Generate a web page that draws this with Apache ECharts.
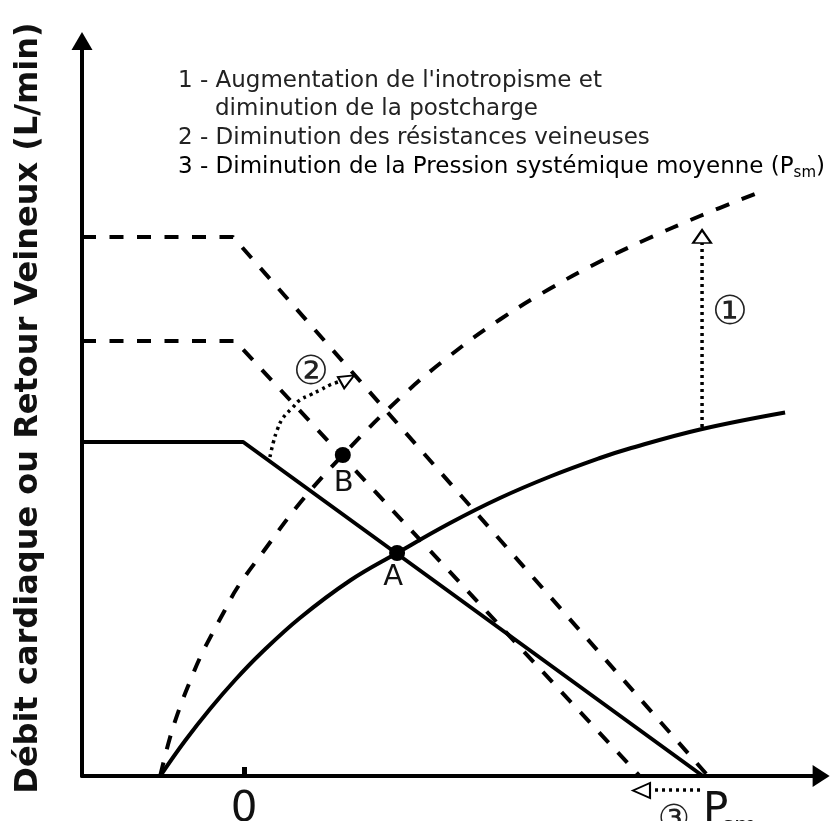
<!DOCTYPE html>
<html><head><meta charset="utf-8">
<script src="https://cdn.jsdelivr.net/npm/echarts@6/dist/echarts.min.js"></script>
<style>html,body{margin:0;padding:0;background:#fff}#c{width:831px;height:821px}</style>
</head><body><div id="c"></div>
<script>
// ---- data (x: pressure units, 0 at the "0" tick; y: flow units) ----
const xTickValues = [0];
const xTickLabels = ['0'];
const venousBase   = [[-4, 6.68], [-0.02, 6.68], [11.33, 0]];
const venousLowRes = [[-4, 10.78], [-0.27, 10.78], [11.46, 0]];
const venousLowPsm = [[-4, 8.70], [-0.22, 8.70], [9.77, 0]];
const cardiacBase = [[-2.07,0],[-1.46,0.70],[-0.84,1.34],[-0.22,1.92],[0.40,2.44],[1.38,3.16],[2.62,3.91],[3.78,4.46],[5.09,5.06],[6.32,5.56],[7.56,5.99],[8.79,6.36],[9.48,6.54],[11.26,6.93],[13.36,7.27]];
const cardiacUp = [[-2.07,0],[-1.83,0.76],[-1.58,1.38],[-1.33,1.90],[-1.09,2.36],[-0.79,2.84],[-0.47,3.32],[-0.17,3.76],[0.47,4.48],[1.38,5.46],[2.44,6.42],[3.85,7.56],[5.09,8.41],[6.32,9.13],[7.56,9.75],[8.79,10.29],[9.90,10.72],[11.26,11.20],[12.74,11.68]];
const arrow1Path = [[11.31, 6.98], [11.31, 10.66]];
const arrow2Path = [[0.64,6.38],[0.72,6.66],[0.82,6.92],[0.96,7.16],[1.19,7.36],[1.38,7.52],[1.63,7.62],[1.88,7.72],[2.12,7.82],[2.32,7.88]];
const arrow3Path = [[11.26, -0.28], [9.99, -0.28]];
const arrowHeads = [
  {value: [11.31, 10.79], rot: 0,   size: [18, 13]},
  {value: [2.56, 7.94],   rot: -61, size: [13, 15]},
  {value: [9.815, -0.29], rot: 90,  size: [15, 17]}
];
const eqPoints = [
  {name: 'A', value: [3.78, 4.46], off: [-4, 24]},
  {name: 'B', value: [2.44, 6.42], off: [1, 28]}
];
const notes = [
  '1 - Augmentation de l\'inotropisme et',
  'diminution de la postcharge',
  '2 - Diminution des résistances veineuses',
  '3 - Diminution de la Pression systémique moyenne (P'
];
const yTitle = 'Débit cardiaque ou Retour Veineux (L/min)';

const FF = '"DejaVu Sans"';
const chart = echarts.init(document.getElementById('c'), null, {renderer: 'canvas'});
const dash = [14, 13.5];
const dot = [3, 4];
function lineS(data, type, smooth, extra) {
  return Object.assign({
    type: 'line', data: data, symbol: 'none', smooth: smooth || false,
    lineStyle: {color: '#000', width: 4, type: type},
    silent: true, z: 3
  }, extra || {});
}
const noteFs = 23;
function noteText(txt, x, top) {
  return {type: 'text', x: x, y: top, z: 10,
    style: {text: txt, font: noteFs + 'px ' + FF, fill: '#222', verticalAlign: 'top', align: 'left'}};
}
chart.setOption({
  animation: false,
  backgroundColor: '#fff',
  textStyle: {fontFamily: 'DejaVu Sans'},
  grid: {left: 82, top: 41, width: 739.125, height: 735, containLabel: false, outerBoundsMode: 'none'},
  xAxis: {
    type: 'value', min: -4, max: 14.25,
    splitLine: {show: false},
    axisLine: {show: true, onZero: false, symbol: ['none', 'triangle'], symbolSize: [22, 17],
      lineStyle: {color: '#000', width: 4}},
    axisTick: {show: true, inside: true, length: 9, customValues: xTickValues,
      lineStyle: {color: '#000', width: 5}},
    axisLabel: {show: true, customValues: xTickValues, margin: 13,
      formatter: function (v) { const i = xTickValues.indexOf(v); return i >= 0 ? xTickLabels[i] : ''; },
      fontSize: 42, color: '#111', fontFamily: 'DejaVu Sans'}
  },
  yAxis: {
    type: 'value', min: 0, max: 14.7,
    splitLine: {show: false},
    axisLine: {show: true, onZero: false, symbol: ['none', 'triangle'], symbolSize: [21, 18],
      lineStyle: {color: '#000', width: 4}},
    axisTick: {show: false}, axisLabel: {show: false}
  },
  series: [
    lineS(venousBase, 'solid'),
    lineS(venousLowRes, dash),
    lineS(venousLowPsm, dash),
    lineS(cardiacBase, 'solid', 0.4),
    lineS(cardiacUp, dash, 0.4),
    lineS(arrow1Path, dot, false, {lineStyle: {color: '#000', width: 3.5, type: dot}}),
    lineS(arrow2Path, dot, 0.4, {lineStyle: {color: '#000', width: 3.5, type: dot}}),
    lineS(arrow3Path, dot, false, {clip: false, lineStyle: {color: '#000', width: 3.5, type: dot}}),
    {
      type: 'scatter', clip: false, silent: true, z: 6,
      data: arrowHeads.map(h => ({value: h.value, symbolRotate: h.rot, symbolSize: h.size})),
      symbol: 'emptyTriangle',
      itemStyle: {color: '#000', borderColor: '#000', borderWidth: 2, opacity: 1}
    },
    {
      type: 'scatter', silent: true, z: 7, symbol: 'circle', symbolSize: 16,
      itemStyle: {color: '#000', opacity: 1},
      data: eqPoints.map(p => ({name: p.name, value: p.value,
        label: {show: true, position: 'inside', offset: p.off, formatter: p.name, opacity: 1,
          fontSize: 29, color: '#111', fontFamily: 'DejaVu Sans'}}))
    }
  ],
  graphic: [
    {type: 'text', x: 29, y: 408, rotation: Math.PI / 2, z: 10,
      style: {text: yTitle, font: 'bold 32px ' + FF, fill: '#111', align: 'center', verticalAlign: 'middle'}},
    noteText(notes[0], 178, 70),
    noteText(notes[1], 215, 98),
    noteText(notes[2], 178, 127),
    {type: 'text', x: 178, y: 153, z: 10,
      style: {text: '{n|' + notes[3] + '}{s|sm}{n|)}', verticalAlign: 'top', align: 'left',
        rich: {n: {fontSize: noteFs, fontFamily: 'DejaVu Sans', color: '#222', lineHeight: 28},
               s: {fontSize: 15, fontFamily: 'DejaVu Sans', color: '#222', lineHeight: 15, verticalAlign: 'bottom'}}}},
    {type: 'text', x: 730, y: 314, z: 10,
      style: {text: '①', font: '40px ' + FF, fill: '#222', align: 'center', verticalAlign: 'middle'}},
    {type: 'text', x: 311, y: 374, z: 10,
      style: {text: '②', font: '40px ' + FF, fill: '#222', align: 'center', verticalAlign: 'middle'}},
    {type: 'text', x: 674, y: 821, z: 10,
      style: {text: '③', font: '36px ' + FF, fill: '#222', align: 'center', verticalAlign: 'middle'}},
    {type: 'text', x: 703, y: 811, z: 10,
      style: {text: 'P', font: '42px ' + FF, fill: '#111', align: 'left', verticalAlign: 'middle'}},
    {type: 'text', x: 722, y: 827, z: 10,
      style: {text: 'sm', font: '23px ' + FF, fill: '#111', align: 'left', verticalAlign: 'middle'}}
  ]
});
</script>
</body></html>
